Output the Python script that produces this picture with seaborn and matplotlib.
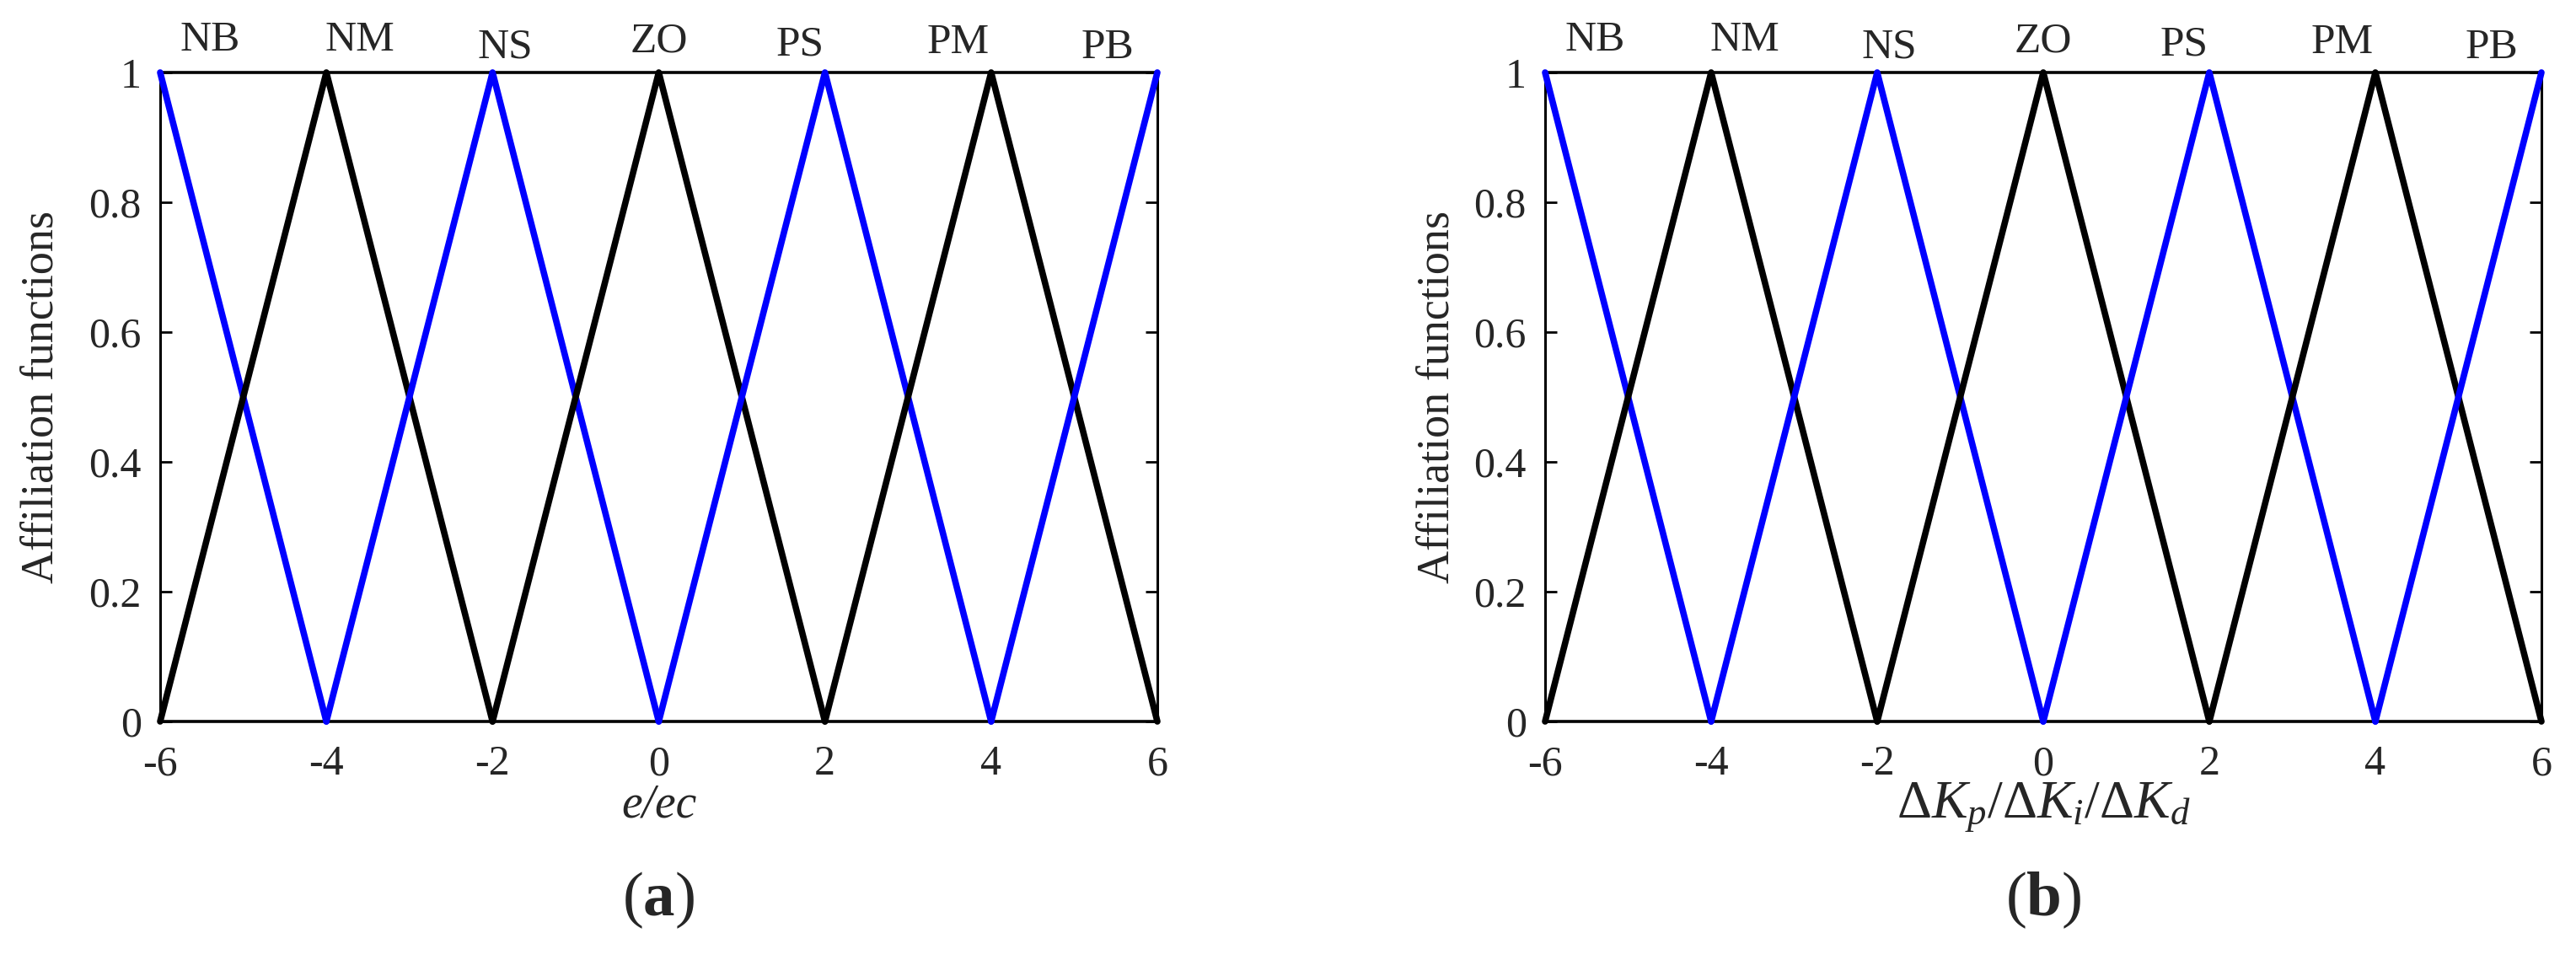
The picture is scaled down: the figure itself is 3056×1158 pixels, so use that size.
import matplotlib
matplotlib.use("Agg")
import matplotlib.pyplot as plt
import seaborn as sns
import pandas as pd

# ---- data ----
set_names = ["NB", "NM", "NS", "ZO", "PS", "PM", "PB"]
nb_x, nb_y = [-6, -4], [1, 0]
nm_x, nm_y = [-6, -4, -2], [0, 1, 0]
ns_x, ns_y = [-4, -2, 0], [0, 1, 0]
zo_x, zo_y = [-2, 0, 2], [0, 1, 0]
ps_x, ps_y = [0, 2, 4], [0, 1, 0]
pm_x, pm_y = [2, 4, 6], [0, 1, 0]
pb_x, pb_y = [4, 6], [0, 1]
x_ticks = [-6, -4, -2, 0, 2, 4, 6]
x_tick_labels = ["-6", "-4", "-2", "0", "2", "4", "6"]
y_ticks = [0, 0.2, 0.4, 0.6, 0.8, 1]
y_tick_labels = ["0", "0.2", "0.4", "0.6", "0.8", "1"]
ylabel_text = "Affiliation functions"
xlabel_a = "e/ec"
xlabel_b = r"$\mathit{\Delta K_p/\Delta K_i/\Delta K_d}$"
panel_tags = [r"($\mathbf{a}$)", r"($\mathbf{b}$)"]

series_x = [nb_x, nm_x, ns_x, zo_x, ps_x, pm_x, pb_x]
series_y = [nb_y, nm_y, ns_y, zo_y, ps_y, pm_y, pb_y]

# ---- style ----
sns.set_style("white")
plt.rcParams["font.family"] = ["Liberation Serif", "DejaVu Serif"]
plt.rcParams["mathtext.fontset"] = "custom"
plt.rcParams["mathtext.rm"] = "Liberation Serif"
plt.rcParams["mathtext.it"] = "Liberation Serif:italic"
plt.rcParams["mathtext.bf"] = "Liberation Serif:bold"
plt.rcParams["axes.unicode_minus"] = False

colors = ["#0000ff", "#000000", "#0000ff", "#000000", "#0000ff", "#000000", "#0000ff"]
label_pos_x = [-5.4, -3.6, -1.85, 0.0, 1.7, 3.6, 5.4]
label_pos_y = [1.020, 1.020, 1.008, 1.018, 1.012, 1.015, 1.008]

W, H = 3056, 1158
fig = plt.figure(figsize=(W / 100, H / 100), dpi=100)

axes_px = [(190, 1373), (1833, 3015)]
top_px, bot_px = 86, 856
ylabel_xc = [-0.098, -0.087]

tick_fs = 36
for i, (l, r) in enumerate(axes_px):
    ax = fig.add_axes([l / W, 1 - bot_px / H, (r - l) / W, (bot_px - top_px) / H])
    for k, (xs, ys) in enumerate(zip(series_x, series_y)):
        df = pd.DataFrame({"x": xs, "y": ys})
        sns.lineplot(data=df, x="x", y="y", color=colors[k], linewidth=5.5,
                     sort=False, ax=ax, clip_on=False, zorder=3)
        ax.text(label_pos_x[k], label_pos_y[k], set_names[k], ha="center", va="bottom",
                fontsize=37)
    ax.set_xlim(-6, 6)
    ax.set_ylim(0, 1)
    ax.set_xticks(x_ticks)
    ax.set_xticklabels(x_tick_labels)
    ax.set_yticks(y_ticks)
    ax.set_yticklabels(y_tick_labels)
    ax.tick_params(axis="x", length=0, pad=20, labelsize=tick_fs)
    ax.tick_params(axis="y", direction="in", length=10, width=2.0, pad=16,
                   labelsize=tick_fs, right=True, left=True, color="black")
    for side in ["top", "bottom"]:
        ax.spines[side].set_linewidth(2.6)
    for side in ["left", "right"]:
        ax.spines[side].set_linewidth(2.2)
    for s in ax.spines.values():
        s.set_color("black")
        s.set_zorder(2)
    ax.set_ylabel(ylabel_text, fontsize=39)
    ax.yaxis.set_label_coords(ylabel_xc[i], 0.5)
    if i == 0:
        ax.set_xlabel(xlabel_a, fontsize=40, fontstyle="italic")
    else:
        ax.set_xlabel(xlabel_b, fontsize=46)
    ax.xaxis.label.set_va("baseline")
    ax.xaxis.set_label_coords(0.5, -0.147)
    cx = (l + r) / 2 / W
    fig.text(cx, 1 - 1068 / H, panel_tags[i], ha="center", va="center", fontsize=54)

fig.savefig("out.png", dpi=100, facecolor="white")
